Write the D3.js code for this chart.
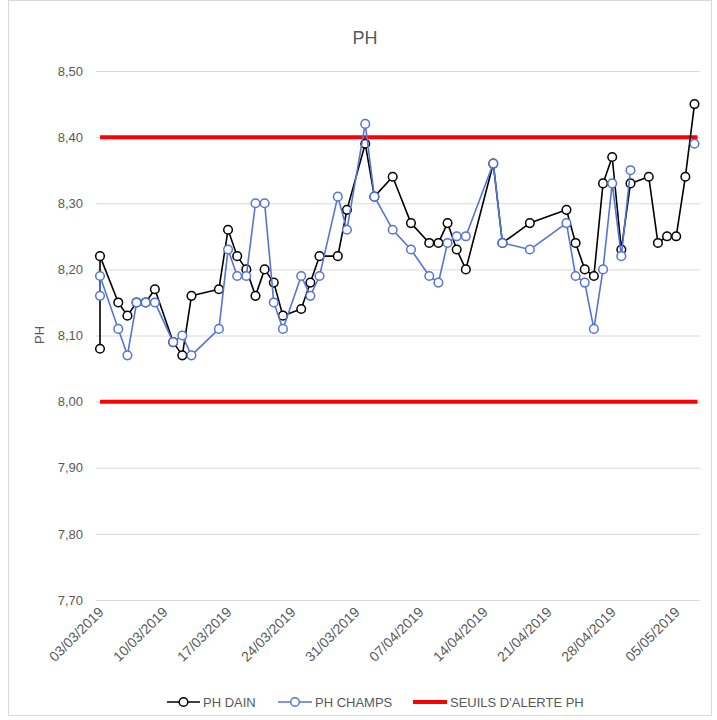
<!DOCTYPE html>
<html>
<head>
<meta charset="utf-8">
<script src="https://cdn.jsdelivr.net/npm/d3@7"></script>
<style>
  body { margin: 0; background: #fff; }
  text { font-family: "Liberation Sans", Arial, sans-serif; fill: #595959; }
</style>
</head>
<body>
<div id="chart"></div>
<script>

// dates of the measures (03/03 is measured twice)
var dates = ["03/03/2019","03/03/2019","05/03/2019","06/03/2019","07/03/2019","08/03/2019","09/03/2019",
  "11/03/2019","12/03/2019","13/03/2019","16/03/2019","17/03/2019","18/03/2019","19/03/2019","20/03/2019",
  "21/03/2019","22/03/2019","23/03/2019","25/03/2019","26/03/2019","27/03/2019","29/03/2019","30/03/2019",
  "01/04/2019","02/04/2019","04/04/2019","06/04/2019","08/04/2019","09/04/2019","10/04/2019","11/04/2019",
  "12/04/2019","15/04/2019","16/04/2019","19/04/2019","23/04/2019","24/04/2019","25/04/2019","26/04/2019",
  "27/04/2019","28/04/2019","29/04/2019","30/04/2019","02/05/2019","03/05/2019","04/05/2019","05/05/2019",
  "06/05/2019","07/05/2019"];

var phDain = [8.08,8.22,8.15,8.13,8.15,8.15,8.17,
  8.09,8.07,8.16,8.17,8.26,8.22,8.20,8.16,
  8.20,8.18,8.13,8.14,8.18,8.22,8.22,8.29,
  8.39,8.31,8.34,8.27,8.24,8.24,8.27,8.23,
  8.20,8.36,8.24,8.27,8.29,8.24,8.20,8.19,
  8.33,8.37,8.23,8.33,8.34,8.24,8.25,8.25,
  8.34,8.45];

var phChamps = [8.16,8.19,8.11,8.07,8.15,8.15,8.15,
  8.09,8.10,8.07,8.11,8.23,8.19,8.19,8.30,
  8.30,8.15,8.11,8.19,8.16,8.19,8.31,8.26,
  8.42,8.31,8.26,8.23,8.19,8.18,8.24,8.25,
  8.25,8.36,8.24,8.23,8.27,8.19,8.18,8.11,
  8.20,8.33,8.22,8.35,null,null,null,null,
  null,8.39];

var seuils = [8.00, 8.40];

var yTicks = [7.70,7.80,7.90,8.00,8.10,8.20,8.30,8.40,8.50];
var xTickLabels = ["03/03/2019","10/03/2019","17/03/2019","24/03/2019","31/03/2019",
  "07/04/2019","14/04/2019","21/04/2019","28/04/2019","05/05/2019"];

var series = [
  {name: "PH DAIN", values: phDain, color: "#000000"},
  {name: "PH CHAMPS", values: phChamps, color: "#5673D6"}
];

var parse = d3.utcParse("%d/%m/%Y");
var fmt = d3.utcFormat("%d/%m/%Y");

var W = 717, H = 720;
var svg = d3.select("#chart").append("svg").attr("width", W).attr("height", H);

// chart border
svg.append("rect").attr("x", 8.5).attr("y", 0.5).attr("width", 703).attr("height", 715)
  .attr("fill", "none").attr("stroke", "#D9D9D9");

var gridLeft = 96, gridRight = 700;

var x = d3.scaleUtc()
  .domain(d3.extent(dates, d => parse(d)))
  .range([100, 694.5]);

var y = d3.scaleLinear()
  .domain([7.7, 8.5])
  .range([600, 71]);

// title
svg.append("text").attr("x", 365).attr("y", 44).attr("text-anchor", "middle")
  .style("font-size", "18px").text("PH");

// y axis + gridlines
var yAxis = svg.append("g")
  .attr("transform", `translate(${gridLeft},0)`)
  .call(d3.axisLeft(y).tickValues(yTicks)
    .tickSize(-(gridRight - gridLeft)).tickPadding(13)
    .tickFormat(d => d.toFixed(2).replace(".", ",")));
yAxis.select(".domain").remove();
yAxis.selectAll("line").attr("stroke", "#D9D9D9");
yAxis.selectAll("text").style("font-size", "13px").attr("fill", "#595959");

svg.append("text")
  .attr("transform", "translate(44,335) rotate(-90)")
  .attr("text-anchor", "middle").style("font-size", "13px").text("PH");

// x axis
var xAxis = svg.append("g")
  .attr("transform", "translate(0,600)")
  .call(d3.axisBottom(x).tickValues(xTickLabels.map(parse)).tickSize(0).tickFormat(fmt));
xAxis.select(".domain").remove();
xAxis.selectAll("text")
  .style("font-size", "14px").attr("fill", "#595959")
  .attr("text-anchor", "end")
  .attr("dy", null)
  .attr("y", 0)
  .attr("transform", "translate(4,13) rotate(-45)");

// alert thresholds
var xExt = x.domain();
svg.selectAll(".seuil").data(seuils).enter().append("line")
  .attr("class", "seuil")
  .attr("x1", x(xExt[0])).attr("x2", x(xExt[1]) + 3)
  .attr("y1", d => y(d)).attr("y2", d => y(d))
  .attr("stroke", "#FF0000").attr("stroke-width", 4);

// series
var line = d3.line()
  .defined(d => d.v != null)
  .x(d => x(d.date))
  .y(d => y(d.v));

series.forEach(function(s) {
  var pts = dates.map((d, i) => ({date: parse(d), v: s.values[i]}));
  svg.append("path").datum(pts)
    .attr("fill", "none").attr("stroke", s.color).attr("stroke-width", 1.6)
    .attr("stroke-linejoin", "round")
    .attr("d", line);
  svg.append("g").selectAll("circle")
    .data(pts.filter(p => p.v != null))
    .enter().append("circle")
    .attr("cx", d => x(d.date)).attr("cy", d => y(d.v)).attr("r", 4.3)
    .attr("fill", "#fff").attr("stroke", s.color).attr("stroke-width", 1.5);
});

// legend
var legend = [
  {name: "PH DAIN", color: "#000000", marker: true, x1: 167, x2: 200},
  {name: "PH CHAMPS", color: "#5673D6", marker: true, x1: 278, x2: 312},
  {name: "SEUILS D'ALERTE PH", color: "#FF0000", marker: false, x1: 413, x2: 447}
];
var lg = svg.append("g").attr("transform", "translate(0,702)");
legend.forEach(function(l) {
  lg.append("line").attr("x1", l.x1).attr("x2", l.x2).attr("y1", 0).attr("y2", 0)
    .attr("stroke", l.color).attr("stroke-width", l.marker ? 1.6 : 4);
  if (l.marker) {
    lg.append("circle").attr("cx", (l.x1 + l.x2) / 2).attr("cy", 0).attr("r", 4.3)
      .attr("fill", "#fff").attr("stroke", l.color).attr("stroke-width", 1.5);
  }
  lg.append("text").attr("x", l.x2 + 3).attr("y", 0).attr("dy", "0.35em")
    .style("font-size", "13px").text(l.name);
});

</script>
</body>
</html>
